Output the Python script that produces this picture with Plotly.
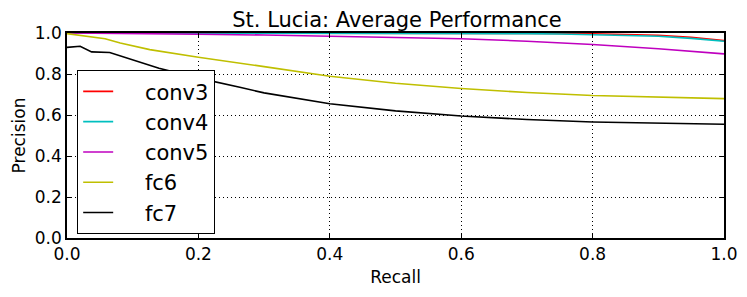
import plotly.graph_objects as go

# ---- data ----
conv3_recall = [0.0, 0.2, 0.4, 0.6, 0.7, 0.8, 0.85, 0.9, 0.95, 1.0]
conv3_prec = [1.0, 1.0, 1.0, 0.999, 0.998, 0.996, 0.994, 0.989, 0.979, 0.963]

conv4_recall = [0.0, 0.2, 0.4, 0.6, 0.7, 0.75, 0.8, 0.85, 0.9, 0.95, 1.0]
conv4_prec = [1.0, 1.0, 1.0, 0.999, 0.997, 0.995, 0.992, 0.989, 0.984, 0.974, 0.960]

conv5_recall = [0.0, 0.1, 0.2, 0.3, 0.4, 0.5, 0.6, 0.7, 0.8, 0.9, 1.0]
conv5_prec = [1.0, 0.998, 0.994, 0.990, 0.985, 0.979, 0.972, 0.960, 0.944, 0.923, 0.898]

fc6_recall = [0.0, 0.058, 0.081, 0.126, 0.2, 0.263, 0.3, 0.4, 0.5, 0.6, 0.7, 0.8, 0.9, 1.0]
fc6_prec = [0.997, 0.972, 0.951, 0.919, 0.882, 0.854, 0.836, 0.789, 0.755, 0.729, 0.710, 0.695, 0.686, 0.680]

fc7_recall = [0.0, 0.02, 0.0375, 0.065, 0.14, 0.2, 0.263, 0.3, 0.4, 0.5, 0.6, 0.7, 0.8, 0.9, 1.0]
fc7_prec = [0.930, 0.935, 0.908, 0.905, 0.828, 0.780, 0.735, 0.708, 0.655, 0.620, 0.595, 0.578, 0.566, 0.559, 0.555]

tick_vals = [0.0, 0.2, 0.4, 0.6, 0.8, 1.0]
tick_text = ["0.0", "0.2", "0.4", "0.6", "0.8", "1.0"]

series = [
    ("conv3", conv3_recall, conv3_prec, "#ff0000"),
    ("conv4", conv4_recall, conv4_prec, "#00bfbf"),
    ("conv5", conv5_recall, conv5_prec, "#bf00bf"),
    ("fc6", fc6_recall, fc6_prec, "#bfbf00"),
    ("fc7", fc7_recall, fc7_prec, "#000000"),
]

FONT = "DejaVu Sans"
PAD = "\u00a0\u00a0\u00a0\u00a0"

fig = go.Figure()
for name, xs, ys, col in series:
    fig.add_trace(go.Scatter(x=xs, y=ys, mode="lines", name=PAD + name,
                             line=dict(color=col, width=1.6)))

axis_common = dict(
    range=[0, 1], tickvals=tick_vals, ticktext=tick_text,
    showline=True, linecolor="black", linewidth=1.5, mirror="ticks",
    ticks="inside", ticklen=5, tickcolor="black", tickwidth=1,
    showgrid=True, gridcolor="black", gridwidth=1, griddash="1px,3px",
    zeroline=False, automargin=False,
    tickfont=dict(family=FONT, size=17, color="black"),
)

fig.update_layout(
    width=747, height=297,
    margin=dict(l=67, r=23, t=33, b=59),
    paper_bgcolor="white", plot_bgcolor="white",
    title=dict(text="St. Lucia: Average Performance", xref="container", x=0.5315,
               xanchor="center", yref="container", y=0.934, yanchor="middle",
               font=dict(family=FONT, size=21, color="black")),
    xaxis=dict(**axis_common, title=dict(text="Recall", standoff=8,
                                         font=dict(family=FONT, size=17, color="black"))),
    yaxis=dict(**axis_common, title=dict(text="Precision", standoff=5,
                                         font=dict(family=FONT, size=17, color="black"))),
    legend=dict(x=0.0152, y=0.8195, xanchor="left", yanchor="top",
                bgcolor="white", bordercolor="black", borderwidth=1.2,
                font=dict(family=FONT, size=21, color="black"),
                itemwidth=30),
    showlegend=True,
)

fig.write_html("out.html", config={"displayModeBar": False},
               post_script="document.body.style.margin='0';document.body.style.padding='0';")
